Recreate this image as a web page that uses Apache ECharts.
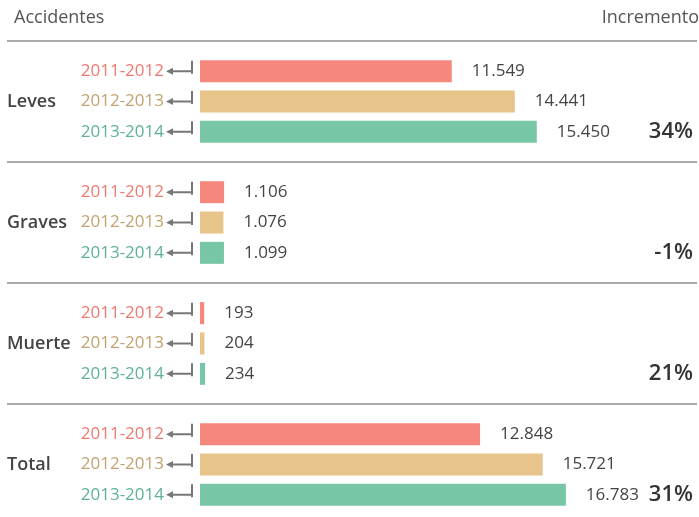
<!DOCTYPE html>
<html>
<head>
<meta charset="utf-8">
<script src="https://cdn.jsdelivr.net/npm/echarts@6/dist/echarts.min.js"></script>
<style>
  html, body { margin: 0; padding: 0; background: #fff; }
  #chart { width: 699px; height: 517px; }
</style>
</head>
<body>
<div id="chart"></div>
<script>
const categories = ['Leves', 'Graves', 'Muerte', 'Total']
const periods = ['2011-2012', '2012-2013', '2013-2014']
const leves = [11549, 14441, 15450]
const graves = [1106, 1076, 1099]
const muerte = [193, 204, 234]
const total = [12848, 15721, 16783]
const increments = ['34%', '-1%', '21%', '31%']

const groups = [leves, graves, muerte, total]
const barColors = ['#F6877D', '#E7C48A', '#77C7A7']
const textColors = ['#F0796F', '#C2A36F', '#5DB391']
const FONT = '"Open Sans", "Noto Sans", sans-serif'

// layout: header line at 41, each block is 121px tall
const headerY = 41
const blockH = 121

const arrowPath = 'path://M0,10.5L7,7L7,14Z M6,9.5H25V11.5H6Z M25,0H27V13H25Z'

function fmt(v) {
  return String(v).replace(/\B(?=(\d{3})+(?!\d))/g, '.')
}

const grids = []
const xAxes = []
const yAxes = []
const series = []
const lines = []

groups.forEach(function (vals, s) {
  const top = headerY + blockH * s + 15
  grids.push({ left: 200, right: 63, top: top, height: 91 })
  xAxes.push({ gridIndex: s, type: 'value', min: 0, max: 20000, show: false })
  // years + category name on the left
  yAxes.push({
    gridIndex: s,
    type: 'category',
    data: periods,
    inverse: true,
    position: 'left',
    axisLine: { show: false },
    axisTick: { show: false },
    axisLabel: {
      margin: 36,
      fontFamily: FONT,
      fontSize: 17,
      color: function (v, i) { return textColors[i] }
    },
    name: categories[s],
    nameLocation: 'middle',
    nameRotate: 0,
    nameGap: 193,
    nameTextStyle: {
      align: 'left',
      verticalAlign: 'middle',
      fontFamily: FONT,
      fontSize: 18,
      fontWeight: 600,
      color: '#444'
    }
  })
  // increment on the right, last row
  yAxes.push({
    gridIndex: s,
    type: 'category',
    data: ['', '', increments[s]],
    inverse: true,
    position: 'right',
    axisLine: { show: false },
    axisTick: { show: false },
    axisLabel: {
      margin: 57,
      align: 'right',
      fontFamily: FONT,
      fontSize: 22,
      fontWeight: 600,
      color: '#333'
    }
  })
  series.push({
    type: 'bar',
    xAxisIndex: s,
    yAxisIndex: s * 2,
    barWidth: 22,
    silent: true,
    data: vals.map(function (v, i) {
      return { value: v, itemStyle: { color: barColors[i] } }
    }),
    label: {
      show: true,
      position: 'right',
      distance: 20,
      fontFamily: FONT,
      fontSize: 17,
      color: '#444',
      formatter: function (p) { return fmt(p.value) }
    }
  })
  series.push({
    type: 'scatter',
    xAxisIndex: s,
    yAxisIndex: s * 2,
    symbol: arrowPath,
    symbolSize: [27, 14],
    symbolOffset: [-20.5, -3.5],
    clip: false,
    silent: true,
    itemStyle: { color: '#555' },
    data: periods.map(function (p, i) { return [0, i] })
  })
  lines.push({
    type: 'line',
    shape: { x1: 7, y1: headerY + blockH * s, x2: 697, y2: headerY + blockH * s },
    style: { stroke: '#aaa', lineWidth: 2 }
  })
})

const chart = echarts.init(document.getElementById('chart'))
chart.setOption({
  backgroundColor: '#fff',
  animation: false,
  title: [
    {
      text: 'Accidentes',
      left: 14,
      top: 9,
      textStyle: { fontFamily: FONT, fontSize: 18, fontWeight: 'normal', color: '#555' },
      padding: 0
    },
    {
      text: 'Incremento',
      right: 0,
      top: 9,
      textStyle: { fontFamily: FONT, fontSize: 18, fontWeight: 'normal', color: '#555' },
      padding: 0
    }
  ],
  grid: grids,
  xAxis: xAxes,
  yAxis: yAxes,
  series: series,
  graphic: lines
})
</script>
</body>
</html>
